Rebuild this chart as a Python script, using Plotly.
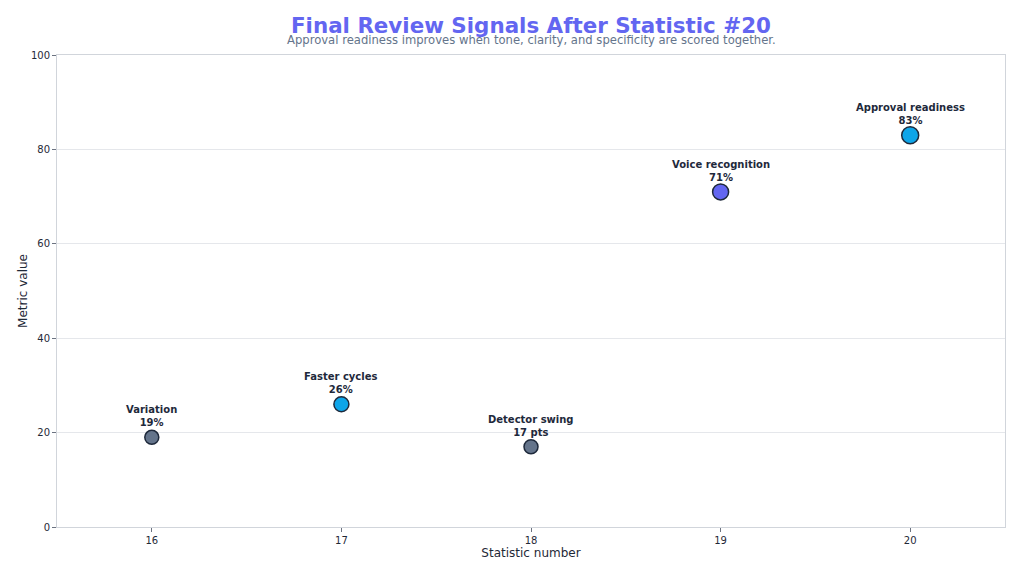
import plotly.graph_objects as go

stat_numbers = [16, 17, 18, 19, 20]
metric_values = [19, 26, 17, 71, 83]
metric_names = ["Variation", "Faster cycles", "Detector swing", "Voice recognition", "Approval readiness"]
value_labels = ["19%", "26%", "17 pts", "71%", "83%"]
x_ticks = [16, 17, 18, 19, 20]
y_ticks = [0, 20, 40, 60, 80, 100]

colors = ["#64748b", "#0ea5e9", "#64748b", "#6366f1", "#0ea5e9"]
sizes = [14, 15, 14, 16, 17]

FONT = "DejaVu Sans"

fig = go.Figure()
fig.add_trace(go.Scatter(
    x=stat_numbers, y=metric_values, mode="markers",
    marker=dict(size=sizes, color=colors, opacity=1,
                line=dict(color="#1e293b", width=1.5)),
    hoverinfo="skip", showlegend=False,
))

for x, y, n, v in zip(stat_numbers, metric_values, metric_names, value_labels):
    fig.add_annotation(
        x=x, y=y, xref="x", yref="y",
        text=f"<b>{n}</b><br><b>{v}</b>",
        showarrow=False, yanchor="bottom", yshift=7,
        font=dict(family=FONT, size=10, color="#1e293b"),
        align="center",
    )

fig.add_annotation(
    x=0.5, y=1.063, xref="paper", yref="paper", yanchor="middle",
    text="Final Review Signals After Statistic #20", showarrow=False,
    font=dict(family=FONT, size=21.4, color="#6366f1", weight="bold"),
)
fig.add_annotation(
    x=0.5, y=1.031, xref="paper", yref="paper", yanchor="middle",
    text="Approval readiness improves when tone, clarity, and specificity are scored together.",
    showarrow=False,
    font=dict(family=FONT, size=11.6, color="#64748b"),
)

axis_common = dict(
    showline=True, linecolor="#d1d5db", linewidth=1, mirror=True,
    ticks="outside", ticklen=4, tickcolor="#6b7280",
    tickfont=dict(family=FONT, size=10, color="#1f2937"),
    zeroline=False,
)

fig.update_xaxes(
    range=[15.5, 20.5], tickvals=x_ticks, ticktext=[str(t) for t in x_ticks],
    showgrid=False,
    title=dict(text="Statistic number", font=dict(family=FONT, size=12, color="#1f2937"), standoff=2),
    **axis_common,
)
fig.update_yaxes(
    range=[0, 100], tickvals=y_ticks,
    showgrid=True, gridcolor="#e5e7eb", gridwidth=1,
    title=dict(text="Metric value", font=dict(family=FONT, size=12, color="#1f2937"), standoff=0),
    **axis_common,
)

fig.update_layout(
    width=1024, height=576,
    margin=dict(l=49, r=27, t=47, b=57),
    paper_bgcolor="white", plot_bgcolor="white",
    font=dict(family=FONT),
)

fig.write_html("out.html")
